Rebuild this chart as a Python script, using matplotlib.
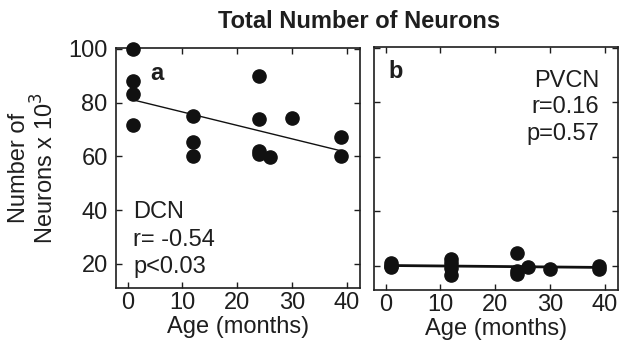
import matplotlib
matplotlib.use("Agg")
import matplotlib.pyplot as plt
import numpy as np

plt.rcParams['font.family'] = ['Liberation Sans', 'DejaVu Sans']

# Panel a: DCN
dcn_age = [1, 1, 1, 1, 12, 12, 12, 24, 24, 24, 24, 26, 30, 39, 39]
dcn_neurons = [100, 88, 83, 71.5, 75, 65.3, 60, 89.7, 74, 62, 60.7, 59.8, 74.3, 67, 60.1]
dcn_fit_age = [1, 39]
dcn_fit = [81, 62]

# Panel b: PVCN
pvcn_age = [1, 1, 1, 12, 12, 12, 12, 24, 24, 24, 26, 30, 39, 39]
pvcn_neurons = [20.8, 20, 19.4, 22.3, 21, 19, 16.5, 24.5, 18, 17, 19.5, 18.8, 20, 18.6]
pvcn_fit_age = [1, 39]
pvcn_fit = [20, 19.3]

xticks = [0, 10, 20, 30, 40]
yticks = [20, 40, 60, 80, 100]

dcn_stats = ['DCN', 'r= -0.54', 'p<0.03']
pvcn_stats = ['PVCN', 'r=0.16', 'p=0.57']

W, H = 619, 352
fig = plt.figure(figsize=(W/100, H/100), dpi=100)

def frac(x0, x1, ytop, ybot):
    return [x0/W, 1-ybot/H, (x1-x0)/W, (ybot-ytop)/H]

ax1 = fig.add_axes(frac(116, 360, 48, 288))
ax2 = fig.add_axes(frac(374, 618, 47, 290))

FS = 17
C = '#1e1e1e'
for ax in (ax1, ax2):
    ax.set_xlim(-2.1, 42.4)
    ax.set_ylim(11, 100.3)
    ax.set_xticks(xticks)
    ax.set_yticks(yticks)
    ax.tick_params(direction='in', length=4, width=1, top=True, right=True,
                   labelsize=FS, colors=C)
    ax.tick_params(axis='x', pad=3)
    ax.tick_params(axis='y', pad=6)
    for s in ax.spines.values():
        s.set_linewidth(1.2)
        s.set_color(C)
    ax.set_xlabel('Age (months)', fontsize=FS, labelpad=1, color=C)

ax1.plot(dcn_age, dcn_neurons, 'o', color='#111111', ms=9.5, clip_on=False, zorder=3)
ax1.plot(dcn_fit_age, dcn_fit, '-', color='#111111', lw=1)
ax2.plot(pvcn_age, pvcn_neurons, 'o', color='#111111', ms=9.5, clip_on=False, zorder=3)
ax2.plot(pvcn_fit_age, pvcn_fit, '-', color='#111111', lw=2)
ax2.tick_params(labelleft=False)

ax1.set_ylabel('Number of\nNeurons x 10$^3$', fontsize=FS, color=C, labelpad=7,
               linespacing=1.05)

ax1.text(0.14, 0.895, 'a', transform=ax1.transAxes, fontsize=FS, fontweight='bold',
         ha='left', va='center', color=C)
ax2.text(0.06, 0.9, 'b', transform=ax2.transAxes, fontsize=FS, fontweight='bold',
         ha='left', va='center', color=C)

for i, s in enumerate(dcn_stats):
    ax1.text(0.070, 0.292 - i * 0.1155, s, transform=ax1.transAxes, fontsize=FS,
             ha='left', va='baseline', color=C)
for i, s in enumerate(pvcn_stats):
    ax2.text(0.922, 0.837 - i * 0.11, s, transform=ax2.transAxes, fontsize=FS,
             ha='right', va='baseline', color=C)

fig.text(359/W, 1-22/H, 'Total Number of Neurons', fontsize=17, fontweight='bold',
         ha='center', va='center', color=C)

fig.savefig('out.png', dpi=100)
